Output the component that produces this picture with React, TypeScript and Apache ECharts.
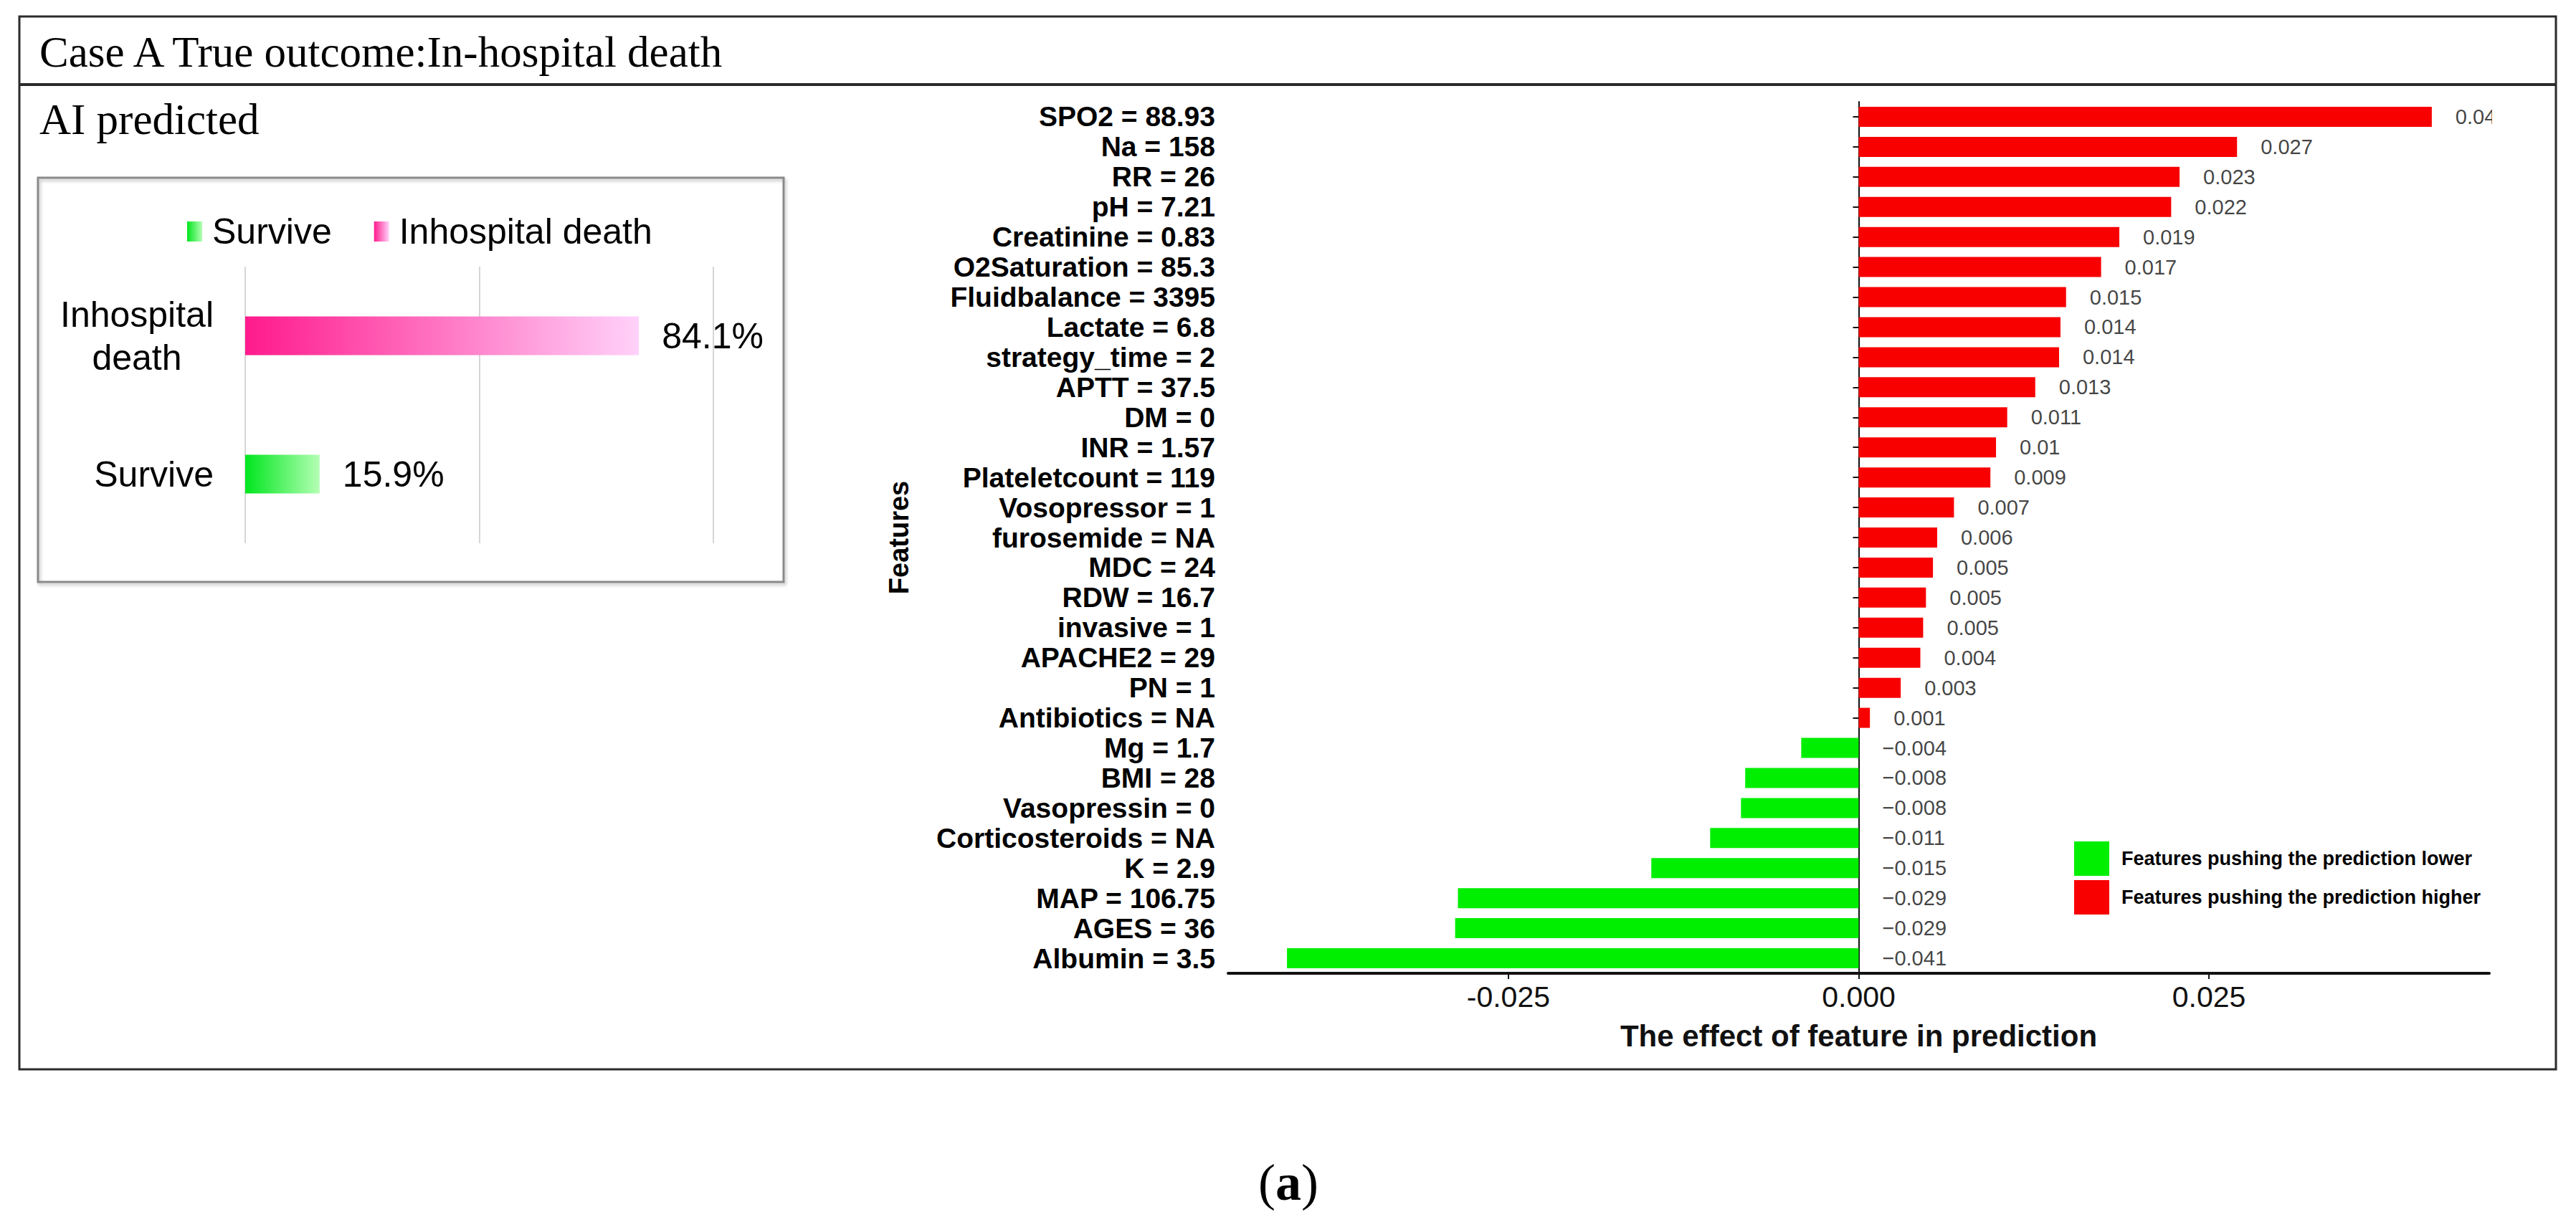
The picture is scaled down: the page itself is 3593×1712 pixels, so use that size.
import React, { useEffect, useRef } from 'react';
import * as echarts from 'echarts';

// ---- Left panel: AI predicted probabilities ----
const predCategories = ['Survive', 'Inhospital death'];
const predSurvive: (number | string)[] = [15.9, '-'];
const predDeath: (number | string)[] = ['-', 84.1];
const predTicks = [0, 50, 100];

// ---- Right panel: feature effects ----
const features = [
  'SPO2 = 88.93', 'Na = 158', 'RR = 26', 'pH = 7.21', 'Creatinine = 0.83',
  'O2Saturation = 85.3', 'Fluidbalance = 3395', 'Lactate = 6.8', 'strategy_time = 2',
  'APTT = 37.5', 'DM = 0', 'INR = 1.57', 'Plateletcount = 119', 'Vosopressor = 1',
  'furosemide = NA', 'MDC = 24', 'RDW = 16.7', 'invasive = 1', 'APACHE2 = 29', 'PN = 1',
  'Antibiotics = NA', 'Mg = 1.7', 'BMI = 28', 'Vasopressin = 0', 'Corticosteroids = NA',
  'K = 2.9', 'MAP = 106.75', 'AGES = 36', 'Albumin = 3.5',
];
const effects = [
  0.0409, 0.027, 0.0229, 0.0223, 0.0186,
  0.0173, 0.0148, 0.0144, 0.0143,
  0.0126, 0.0106, 0.0098, 0.0094, 0.0068,
  0.0056, 0.0053, 0.0048, 0.0046, 0.0044, 0.003,
  0.0008, -0.0041, -0.0081, -0.0084, -0.0106,
  -0.0148, -0.0286, -0.0288, -0.0408,
];
const effectTicks = [-0.025, 0, 0.025];
const effectTickLabels = ['-0.025', '0.000', '0.025'];

const SANS = 'Liberation Sans, Arial, sans-serif';
const SERIF = 'Liberation Serif, Times New Roman, serif';

const fmt = (v: number) => {
  const r = Math.round(Math.abs(v) * 1000) / 1000;
  return (v < 0 ? '\u2212' : '') + String(r);
};

export default function App() {
  const ref = useRef<HTMLDivElement>(null);
  useEffect(() => {
    document.body.style.margin = '0';
    const chart = echarts.init(ref.current!, undefined, { renderer: 'svg' });
    const greenGrad = new echarts.graphic.LinearGradient(0, 0, 1, 0, [
      { offset: 0, color: '#00e61e' },
      { offset: 1, color: '#b4ffb4' },
    ]);
    const pinkGrad = new echarts.graphic.LinearGradient(0, 0, 1, 0, [
      { offset: 0, color: '#ff1a8c' },
      { offset: 1, color: '#ffd2fa' },
    ]);
    const option: any = {
      animation: false,
      backgroundColor: '#ffffff',
      textStyle: { fontFamily: SANS },
      grid: [
        { left: 342, top: 372, width: 653, height: 386 },
        { left: 1713, top: 142, width: 1759, height: 1216 },
      ],
      legend: [
        {
          data: predCategories,
          left: 256,
          top: 293,
          itemWidth: 21,
          itemHeight: 28,
          itemGap: 59,
          icon: 'rect',
          textStyle: { fontSize: 50, color: '#000', fontFamily: SANS, padding: [0, 0, 0, 9] },
        },
        {
          data: ['Features pushing the prediction lower', 'Features pushing the prediction higher'],
          orient: 'vertical',
          left: 2888,
          top: 1169,
          itemWidth: 49,
          itemHeight: 48,
          itemGap: 6,
          icon: 'rect',
          textStyle: { fontSize: 27, fontWeight: 'bold', color: '#000', fontFamily: SANS, padding: [0, 0, 0, 12] },
        },
      ],
      xAxis: [
        {
          gridIndex: 0,
          type: 'value',
          min: predTicks[0],
          max: predTicks[predTicks.length - 1],
          interval: 50,
          axisLine: { show: false },
          axisTick: { show: false },
          axisLabel: { show: false },
          splitLine: { show: true, lineStyle: { color: '#d6d6d6', width: 2 } },
        },
        {
          gridIndex: 1,
          type: 'value',
          min: -0.045,
          max: 0.045,
          axisLine: { show: true, onZero: false, lineStyle: { color: '#111', width: 4 } },
          axisTick: { show: true, length: 8, customValues: effectTicks, lineStyle: { color: '#111', width: 2 } },
          axisLabel: {
            show: true,
            customValues: effectTicks,
            margin: 12,
            fontSize: 41,
            color: '#111',
            fontFamily: SANS,
            formatter: (v: number) => {
              const i = effectTicks.findIndex((t) => Math.abs(t - v) < 1e-9);
              return i >= 0 ? effectTickLabels[i] : '';
            },
          },
          splitLine: { show: false },
          name: 'The effect of feature in prediction',
          nameLocation: 'middle',
          nameGap: 66,
          nameTextStyle: { fontSize: 42, fontWeight: 'bold', color: '#111', fontFamily: SANS },
        },
      ],
      yAxis: [
        {
          gridIndex: 0,
          type: 'category',
          data: predCategories,
          axisLine: { show: false },
          axisTick: { show: false },
          axisLabel: {
            interval: 0,
            margin: 44,
            color: '#000',
            fontSize: 50,
            fontFamily: SANS,
            lineHeight: 60,
            formatter: (v: string) => {
              const parts = v.split(' ');
              if (parts.length > 1) return parts.map((p) => '{c|' + p + '}').join('\n');
              return v;
            },
            rich: {
              c: { width: 214, align: 'center', fontSize: 50, lineHeight: 60, color: '#000', fontFamily: SANS },
            },
          },
        },
        {
          gridIndex: 1,
          type: 'category',
          data: features,
          inverse: true,
          axisLine: { show: true, lineStyle: { color: '#111', width: 2 } },
          axisTick: { show: true, length: 8, interval: 0, alignWithLabel: true, lineStyle: { color: '#111', width: 2 } },
          axisLabel: {
            interval: 0,
            hideOverlap: false,
            margin: 18,
            color: '#000',
            fontSize: 39,
            fontWeight: 'bold',
            fontFamily: SANS,
          },
          name: 'Features',
          nameLocation: 'middle',
          nameGap: 440,
          nameTextStyle: { fontSize: 38, fontWeight: 'bold', color: '#000', fontFamily: SANS },
        },
      ],
      series: [
        {
          name: 'Survive',
          type: 'bar',
          xAxisIndex: 0,
          yAxisIndex: 0,
          stack: 'pred',
          barWidth: 54,
          data: predSurvive,
          itemStyle: { color: greenGrad },
          label: {
            show: true,
            position: 'right',
            distance: 32,
            formatter: '{c}%',
            fontSize: 50,
            color: '#000',
            fontFamily: SANS,
          },
        },
        {
          name: 'Inhospital death',
          type: 'bar',
          xAxisIndex: 0,
          yAxisIndex: 0,
          stack: 'pred',
          barWidth: 54,
          data: predDeath,
          itemStyle: { color: pinkGrad },
          label: {
            show: true,
            position: 'right',
            distance: 32,
            formatter: '{c}%',
            fontSize: 50,
            color: '#000',
            fontFamily: SANS,
          },
        },
        {
          name: 'Features pushing the prediction lower',
          type: 'bar',
          xAxisIndex: 1,
          yAxisIndex: 1,
          stack: 'eff',
          barWidth: 28,
          data: effects.map((v) => (v < 0 ? v : '-')),
          itemStyle: { color: '#00ee00' },
        },
        {
          name: 'Features pushing the prediction higher',
          type: 'bar',
          xAxisIndex: 1,
          yAxisIndex: 1,
          stack: 'eff',
          barWidth: 28,
          data: effects.map((v) => (v > 0 ? v : '-')),
          itemStyle: { color: '#f80000' },
        },
        {
          name: 'labels',
          type: 'scatter',
          xAxisIndex: 1,
          yAxisIndex: 1,
          symbolSize: 0,
          silent: true,
          data: effects.map((v, i) => [Math.max(v, 0), i]),
          label: {
            show: true,
            position: 'right',
            distance: 33,
            fontSize: 29,
            color: '#111',
            fontFamily: SANS,
            formatter: (p: any) => fmt(effects[p.dataIndex]),
          },
        },
      ],
      graphic: [
        {
          type: 'rect',
          z: 100,
          shape: { x: 3476, y: 140, width: 82, height: 50 },
          style: { fill: '#ffffff' },
          silent: true,
        },
        {
          type: 'rect',
          z: 101,
          shape: { x: 27, y: 23, width: 3538, height: 1469 },
          style: { fill: 'none', stroke: '#2b2b2b', lineWidth: 3 },
          silent: true,
        },
        {
          type: 'line',
          z: 101,
          shape: { x1: 27, y1: 118, x2: 3565, y2: 118 },
          style: { stroke: '#2b2b2b', lineWidth: 4 },
          silent: true,
        },
        {
          type: 'text',
          z: 101,
          x: 55,
          y: 72,
          style: {
            text: 'Case A True outcome:In-hospital death',
            font: '61px ' + SERIF,
            fill: '#000',
            verticalAlign: 'middle',
          },
        },
        {
          type: 'text',
          z: 101,
          x: 55,
          y: 166,
          style: {
            text: 'AI predicted',
            font: '61px ' + SERIF,
            fill: '#000',
            verticalAlign: 'middle',
          },
        },
        {
          type: 'rect',
          z: 1,
          shape: { x: 53, y: 248, width: 1040, height: 564 },
          style: {
            fill: 'none',
            stroke: '#8a8a8a',
            lineWidth: 3,
            shadowBlur: 4,
            shadowOffsetX: 2,
            shadowOffsetY: 3,
            shadowColor: 'rgba(0,0,0,0.25)',
          },
          silent: true,
        },
        {
          type: 'text',
          z: 101,
          x: 1797,
          y: 1650,
          style: {
            text: '({b|a})',
            font: '72px ' + SERIF,
            fill: '#000',
            align: 'center',
            verticalAlign: 'middle',
            rich: {
              b: { font: 'bold 72px ' + SERIF, fill: '#000' },
            },
          },
        },
      ],
    };
    chart.setOption(option);
    return () => chart.dispose();
  }, []);
  return (
    <div
      ref={ref}
      style={{ position: 'absolute', left: 0, top: 0, width: 3593, height: 1712 }}
    />
  );
}
